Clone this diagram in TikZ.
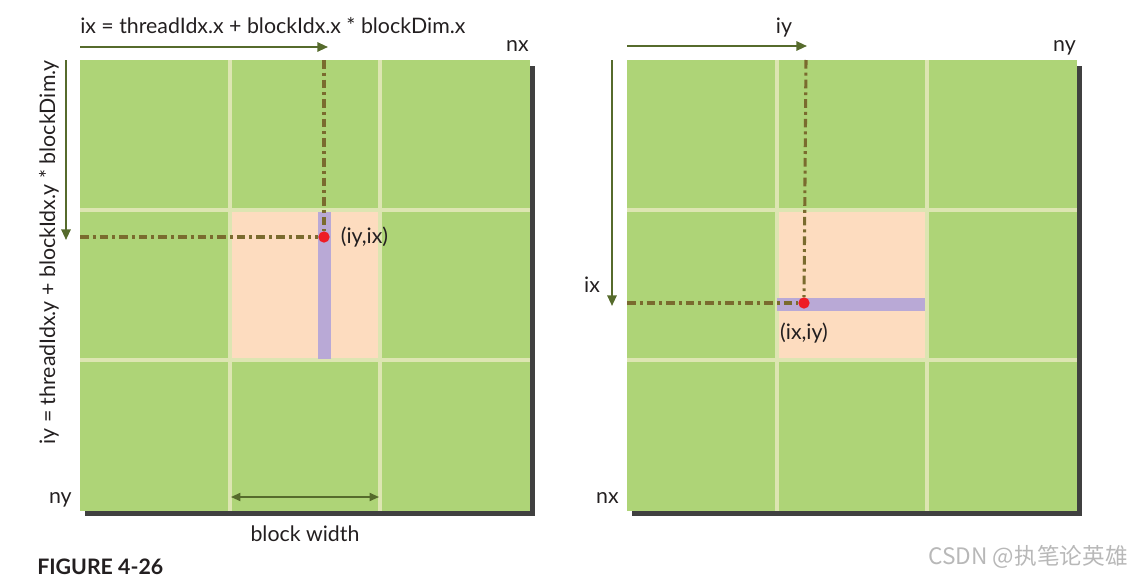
\documentclass[tikz,border=0pt]{standalone}
\usepackage{fontspec}
\setmainfont{Lato}
\newfontfamily\cjkfont{Noto Sans CJK SC}
\usetikzlibrary{positioning, arrows.meta}
\definecolor{gridgreen}{HTML}{AED477}
\definecolor{gridpale}{HTML}{DDE5B2}
\definecolor{blockpeach}{HTML}{FDDCBF}
\definecolor{rowpurple}{HTML}{B9A9D6}
\definecolor{dotred}{HTML}{EE1C25}
\definecolor{guideolive}{HTML}{7A6B2E}
\definecolor{arrowolive}{HTML}{566B2C}
\definecolor{shadowgray}{HTML}{404040}
\definecolor{inkblack}{HTML}{231F20}
\tikzstyle{txt}=[font=\fontsize{16}{19}\selectfont, text=inkblack, inner sep=0pt]
\tikzstyle{gridsep}=[gridpale, line width=2.4pt]
\tikzstyle{guideline}=[guideolive, line width=2.3pt, dash pattern=on 6.5pt off 3pt on 2.2pt off 3pt]
\tikzstyle{idxarrow}=[arrowolive, line width=1.5pt, -{Triangle[length=8pt,width=7pt]}]
\tikzstyle{widtharrow}=[arrowolive, line width=1.3pt, {Triangle[length=7pt,width=6pt]}-{Triangle[length=7pt,width=6pt]}]
\tikzstyle{threaddot}=[circle, fill=dotred, minimum size=8.5pt, inner sep=0pt]
% one 3x3 grid of blocks, #1 = left edge
\newcommand{\blockgrid}[1]{%
  \fill[shadowgray] (#1+5,66) rectangle (#1+455,516);
  \fill[gridgreen] (#1,60) rectangle (#1+450,511);
  \fill[blockpeach] (#1+150,210) rectangle (#1+300,360);
  \foreach \k in {150,300} {
    \draw[gridsep] (#1+\k,60) -- (#1+\k,511);
    \draw[gridsep] (#1,60+\k) -- (#1+450,60+\k);
  }
}

\begin{document}
\begin{tikzpicture}[x=0.75pt, y=-0.75pt, node distance=6pt]
  \useasboundingbox (0,0) rectangle (1132,578);
  % left: row major
  \blockgrid{80}
  \fill[rowpurple] (318,211.5) rectangle (331,358.5);
  \node[threaddot] (ldot) at (324,237) {};
  \coordinate (ltop) at (324,60);
  \coordinate (lleft) at (80,237);
  \draw[guideline] (ltop) -- (ldot.north);
  \draw[guideline] (lleft) -- (ldot.west);
  \node[txt, right=8pt of ldot] (lpair) {(iy,ix)};
  \coordinate (lxa) at (80,47);
  \coordinate (lxb) at (328,47);
  \draw[idxarrow] (lxa) -- (lxb);
  \node[txt, anchor=base west] (lformula) at (80,33) {ix = threadIdx.x + blockIdx.x * blockDim.x};
  \node[txt, anchor=base east] (lnx) at (529,51) {nx};
  \coordinate (lya) at (66,60);
  \coordinate (lyb) at (66,240);
  \draw[idxarrow] (lya) -- (lyb);
  \node[txt, rotate=90, anchor=base east] (lformulay) at (55,60) {iy = threadIdx.y + blockIdx.y * blockDim.y};
  \node[txt, anchor=base east] (lny) at (72,503) {ny};
  \coordinate (lwa) at (231,497);
  \coordinate (lwb) at (379,497);
  \draw[widtharrow] (lwa) -- (lwb);
  \node[txt] (lwidth) at (305,534) {block width};

  % right: column major
  \blockgrid{627}
  \fill[rowpurple] (777,297.5) rectangle (925,310.5);
  \node[threaddot] (rdot) at (804,303) {};
  \coordinate (rtop) at (806,60);
  \coordinate (rleft) at (627,303);
  \draw[guideline] (rtop) -- (rdot.north);
  \draw[guideline] (rleft) -- (rdot.west);
  \node[txt, below=10pt of rdot] (rpair) {(ix,iy)};
  \coordinate (rya) at (627,46);
  \coordinate (ryb) at (807,46);
  \draw[idxarrow] (rya) -- (ryb);
  \node[txt] (riy) at (784,28) {iy};
  \node[txt, anchor=base east] (rny) at (1076,51) {ny};
  \coordinate (rxa) at (612,60);
  \coordinate (rxb) at (612,306);
  \draw[idxarrow] (rxa) -- (rxb);
  \node[txt] (rix) at (592,285) {ix};
  \node[txt, anchor=base east] (rnx) at (619,503) {nx};

  \node[txt, anchor=west, font=\fontsize{16}{19}\selectfont\bfseries] (caption) at (37,567) {FIGURE 4-26};
  \node[txt, anchor=east, text=black!28, font=\fontsize{17}{20}\selectfont\cjkfont] (mark) at (1128,557) {CSDN @执笔论英雄};
\end{tikzpicture}
\end{document}
